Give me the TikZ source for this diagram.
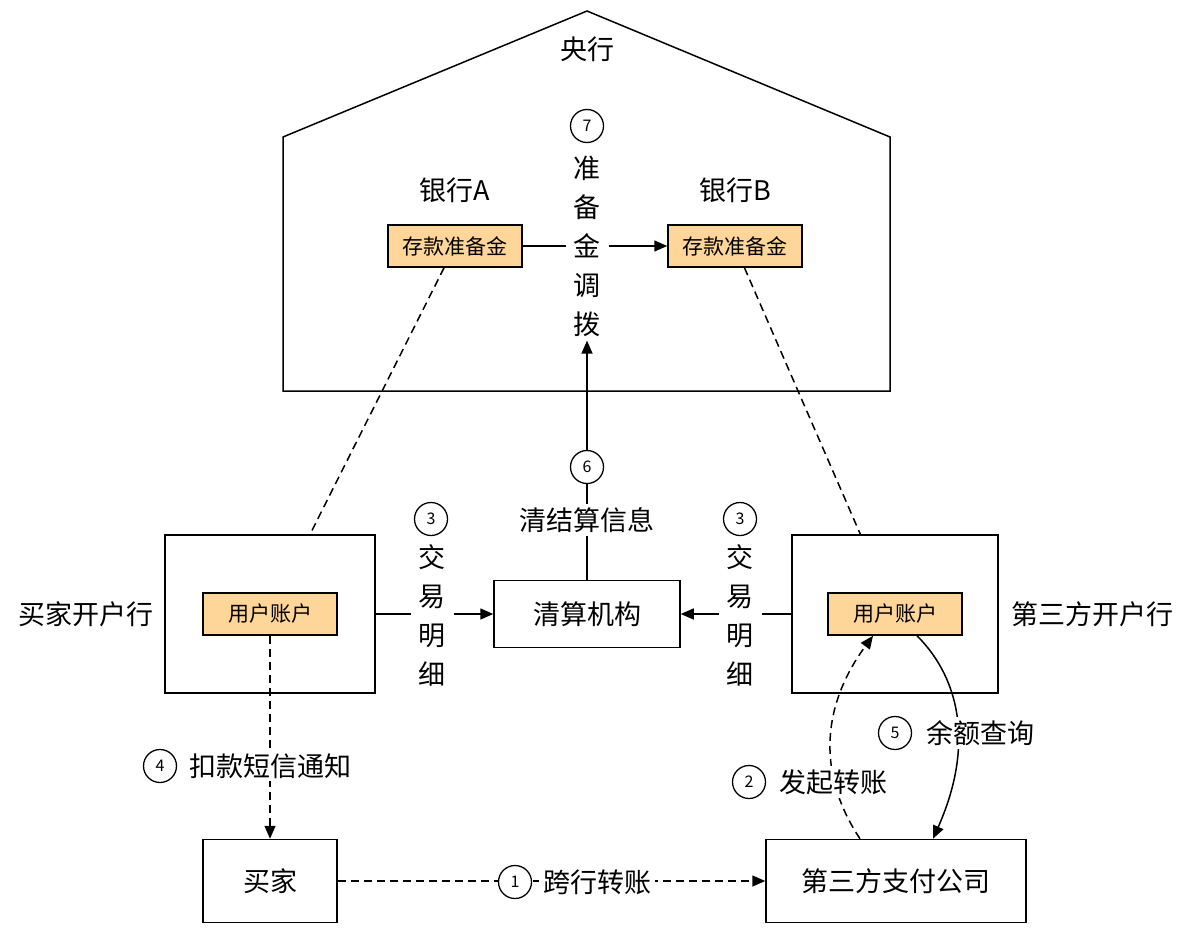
\documentclass[tikz,border=0pt]{standalone}
\usepackage{fontspec}
\setmainfont{Noto Sans CJK SC}
\usetikzlibrary{arrows.meta,calc}
\definecolor{acct}{RGB}{255,214,153}
\begin{document}
\begin{tikzpicture}[x=1pt,y=-1pt,
  every node/.style={font=\fontsize{27}{32}\selectfont, inner sep=0pt},
  box/.style={draw, line width=1.5pt, minimum width=#1},
  acctbox/.style={draw, line width=1.5pt, fill=acct, minimum width=134pt, minimum height=42pt, font=\fontsize{21}{24}\selectfont},
  num/.style={draw, circle, line width=1.3pt, fill=white, minimum size=33pt, font=\fontsize{16}{18}\selectfont},
  lbl/.style={fill=white, inner xsep=4pt, inner ysep=3pt},
  vlbl/.style={fill=white, align=center, inner xsep=8pt, inner ysep=4pt, font=\fontsize{27}{39}\selectfont},
  arr/.style={line width=1.5pt, -{Triangle[length=13pt,width=11pt]}},
  conn/.style={line width=1.5pt},
  dsh/.style={dash pattern=on 8pt off 5pt}
]
\useasboundingbox (0,0) rectangle (1182,944);
% central bank house
\draw[line width=1.5pt] (283,137) -- (587,11) -- (890,137) -- (890,391) -- (283,391) -- cycle;
\node (cb) at (587,49) {央行};
\node (bankA) at (455,190) {银行A};
\node (bankB) at (735,190) {银行B};
\node[acctbox] (resA) at (455,246) {存款准备金};
\node[acctbox] (resB) at (735,246) {存款准备金};

% boxes
\node[box=210pt, minimum height=158pt] (bbank) at (270,614) {};
\node[box=206pt, minimum height=158pt] (tbank) at (895,614) {};
\node[acctbox] (bacct) at (270,614) {用户账户};
\node[acctbox] (tacct) at (895,614) {用户账户};
\node (bbanklbl) at (86,614) {买家开户行};
\node (tbanklbl) at (1092,614) {第三方开户行};
\node[box=186pt, minimum height=67pt] (clear) at (587,614) {清算机构};
\node[box=134pt, minimum height=83pt] (buyer) at (270,881) {买家};
\node[box=260pt, minimum height=83pt] (payco) at (896,881) {第三方支付公司};

% connectors
\draw[arr] (resA) -- (resB);
\node[vlbl] (v7) at (587,246) {准\\备\\金\\调\\拨};
\draw[arr] (clear) -- (v7);
\draw[conn,dsh] (resA) -- (bbank);
\draw[conn,dsh] (resB) -- (tbank);
\draw[arr] (bbank) -- (clear);
\draw[arr] (tbank) -- (clear);
\draw[arr,dsh] (bacct) -- (buyer);
\draw[arr,dsh] (buyer) -- (payco);
\draw[arr,dsh] ([xshift=-36pt]payco.north) .. controls +(-40,-60) and +(-55,75) .. ([xshift=-22pt]tacct.south);
\draw[arr] ([xshift=22pt]tacct.south) .. controls +(45,45) and +(40,-90) .. ([xshift=37pt]payco.north);

% labels
\node[num] (n7) at (587,126) {7};
\node[lbl] (l6) at (587,520) {清结算信息};
\node[num] (n6) at (587,467) {6};
\node[vlbl] (v3a) at (432,615) {交\\易\\明\\细};
\node[num] (n3a) at (431,519) {3};
\node[vlbl] (v3b) at (740,615) {交\\易\\明\\细};
\node[num] (n3b) at (740,519) {3};
\node[lbl] (l4) at (270,766) {扣款短信通知};
\node[num] (n4) at (160,766) {4};
\node[lbl] (l1) at (597,882) {跨行转账};
\node[num] (n1) at (515,882) {1};
\node[lbl] (l5) at (980,733) {余额查询};
\node[num] (n5) at (895,733) {5};
\node[lbl] (l2) at (833,782) {发起转账};
\node[num] (n2) at (749,782) {2};
\end{tikzpicture}
\end{document}
